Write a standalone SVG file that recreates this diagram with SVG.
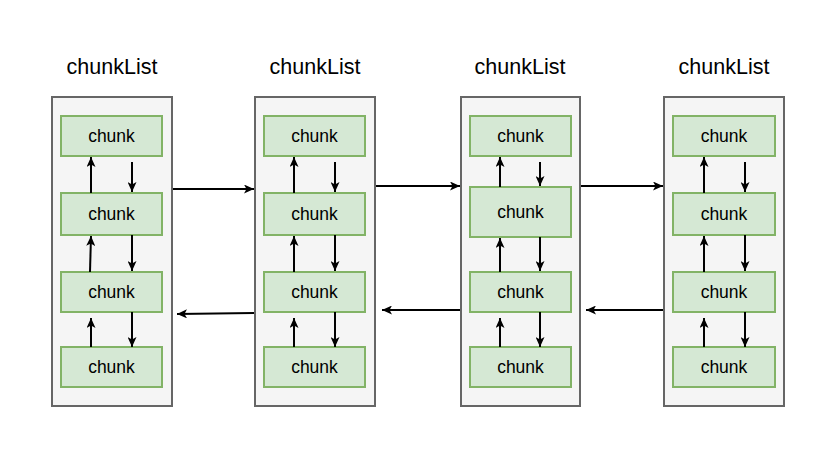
<svg xmlns="http://www.w3.org/2000/svg" width="835" height="458" viewBox="0 0 835 458">
<defs>
<marker id="ah" viewBox="0 0 10 9" refX="10" refY="4.5" markerWidth="10" markerHeight="9" markerUnits="userSpaceOnUse" orient="auto">
<path d="M0,0 L10,4.5 L0,9 L2.5,4.5 z" fill="#000"/>
</marker>
<style>
.lst{fill:#f5f5f5;stroke:#666666;stroke-width:2}
.chk{fill:#d5e8d4;stroke:#82b366;stroke-width:2}
.ttl{font-family:"Liberation Sans",Arial,sans-serif;font-size:21.5px;fill:#000;text-anchor:middle}
.ct{font-family:"Liberation Sans",Arial,sans-serif;font-size:17.5px;fill:#000;text-anchor:middle}
.ed{stroke:#000;stroke-width:2;fill:none;marker-end:url(#ah)}
</style>
</defs>
<rect width="835" height="458" fill="#ffffff"/>

<g id="list1">
<text class="ttl" x="112" y="74">chunkList</text>
<rect class="lst" x="52" y="97" width="120" height="309"/>
</g>
<g id="list2">
<text class="ttl" x="315" y="74">chunkList</text>
<rect class="lst" x="255" y="97" width="120" height="309"/>
</g>
<g id="list3">
<text class="ttl" x="520" y="74">chunkList</text>
<rect class="lst" x="461" y="97" width="119" height="309"/>
</g>
<g id="list4">
<text class="ttl" x="724" y="74">chunkList</text>
<rect class="lst" x="664" y="97" width="120" height="309"/>
</g>

<g id="c1a"><rect class="chk" x="61" y="116" width="101" height="40"/><text class="ct" x="111.5" y="142">chunk</text></g>
<g id="c1b"><rect class="chk" x="61" y="193" width="101" height="42"/><text class="ct" x="111.5" y="220">chunk</text></g>
<g id="c1c"><rect class="chk" x="61" y="272" width="101" height="40"/><text class="ct" x="111.5" y="298">chunk</text></g>
<g id="c1d"><rect class="chk" x="61" y="347" width="101" height="40"/><text class="ct" x="111.5" y="373">chunk</text></g>

<g id="c2a"><rect class="chk" x="264" y="116" width="101" height="40"/><text class="ct" x="314.5" y="142">chunk</text></g>
<g id="c2b"><rect class="chk" x="264" y="193" width="101" height="42"/><text class="ct" x="314.5" y="220">chunk</text></g>
<g id="c2c"><rect class="chk" x="264" y="272" width="101" height="40"/><text class="ct" x="314.5" y="298">chunk</text></g>
<g id="c2d"><rect class="chk" x="264" y="347" width="101" height="40"/><text class="ct" x="314.5" y="373">chunk</text></g>

<g id="c3a"><rect class="chk" x="470" y="116" width="101" height="40"/><text class="ct" x="520.5" y="142">chunk</text></g>
<g id="c3b"><rect class="chk" x="470" y="187" width="101" height="50"/><text class="ct" x="520.5" y="218">chunk</text></g>
<g id="c3c"><rect class="chk" x="470" y="272" width="101" height="40"/><text class="ct" x="520.5" y="298">chunk</text></g>
<g id="c3d"><rect class="chk" x="470" y="347" width="101" height="40"/><text class="ct" x="520.5" y="373">chunk</text></g>

<g id="c4a"><rect class="chk" x="673" y="116" width="102" height="40"/><text class="ct" x="724" y="142">chunk</text></g>
<g id="c4b"><rect class="chk" x="673" y="193" width="102" height="42"/><text class="ct" x="724" y="220">chunk</text></g>
<g id="c4c"><rect class="chk" x="673" y="272" width="102" height="40"/><text class="ct" x="724" y="298">chunk</text></g>
<g id="c4d"><rect class="chk" x="673" y="347" width="102" height="40"/><text class="ct" x="724" y="373">chunk</text></g>

<g id="connectors">
<!-- list 1 -->
<line class="ed" x1="91" y1="193" x2="91" y2="157"/>
<line class="ed" x1="132" y1="162" x2="132" y2="192"/>
<line class="ed" x1="90" y1="272" x2="91" y2="236"/>
<line class="ed" x1="132" y1="235" x2="132" y2="271"/>
<line class="ed" x1="91" y1="347" x2="91" y2="318"/>
<line class="ed" x1="132" y1="312" x2="132" y2="347"/>
<!-- list 2 -->
<line class="ed" x1="294" y1="193" x2="294" y2="157"/>
<line class="ed" x1="335" y1="162" x2="335" y2="192"/>
<line class="ed" x1="294" y1="272" x2="294" y2="236"/>
<line class="ed" x1="335" y1="235" x2="335" y2="271"/>
<line class="ed" x1="294" y1="347" x2="294" y2="318"/>
<line class="ed" x1="335" y1="312" x2="335" y2="347"/>
<!-- list 3 -->
<line class="ed" x1="500" y1="187" x2="500" y2="157"/>
<line class="ed" x1="540" y1="162" x2="540" y2="186"/>
<line class="ed" x1="500" y1="272" x2="500" y2="238"/>
<line class="ed" x1="540" y1="237" x2="540" y2="271"/>
<line class="ed" x1="500" y1="347" x2="500" y2="318"/>
<line class="ed" x1="540" y1="312" x2="540" y2="347"/>
<!-- list 4 -->
<line class="ed" x1="704" y1="193" x2="704" y2="157"/>
<line class="ed" x1="745" y1="162" x2="745" y2="192"/>
<line class="ed" x1="704" y1="272" x2="704" y2="236"/>
<line class="ed" x1="745" y1="235" x2="745" y2="271"/>
<line class="ed" x1="704" y1="347" x2="704" y2="318"/>
<line class="ed" x1="745" y1="312" x2="745" y2="347"/>
<!-- between lists -->
<line class="ed" x1="173" y1="189" x2="254" y2="189"/>
<line class="ed" x1="376" y1="186" x2="460" y2="186"/>
<line class="ed" x1="581" y1="186" x2="663" y2="186"/>
<line class="ed" x1="254" y1="313" x2="177" y2="314"/>
<line class="ed" x1="460" y1="310" x2="382" y2="310"/>
<line class="ed" x1="663" y1="310" x2="586" y2="310"/>
</g>
</svg>
